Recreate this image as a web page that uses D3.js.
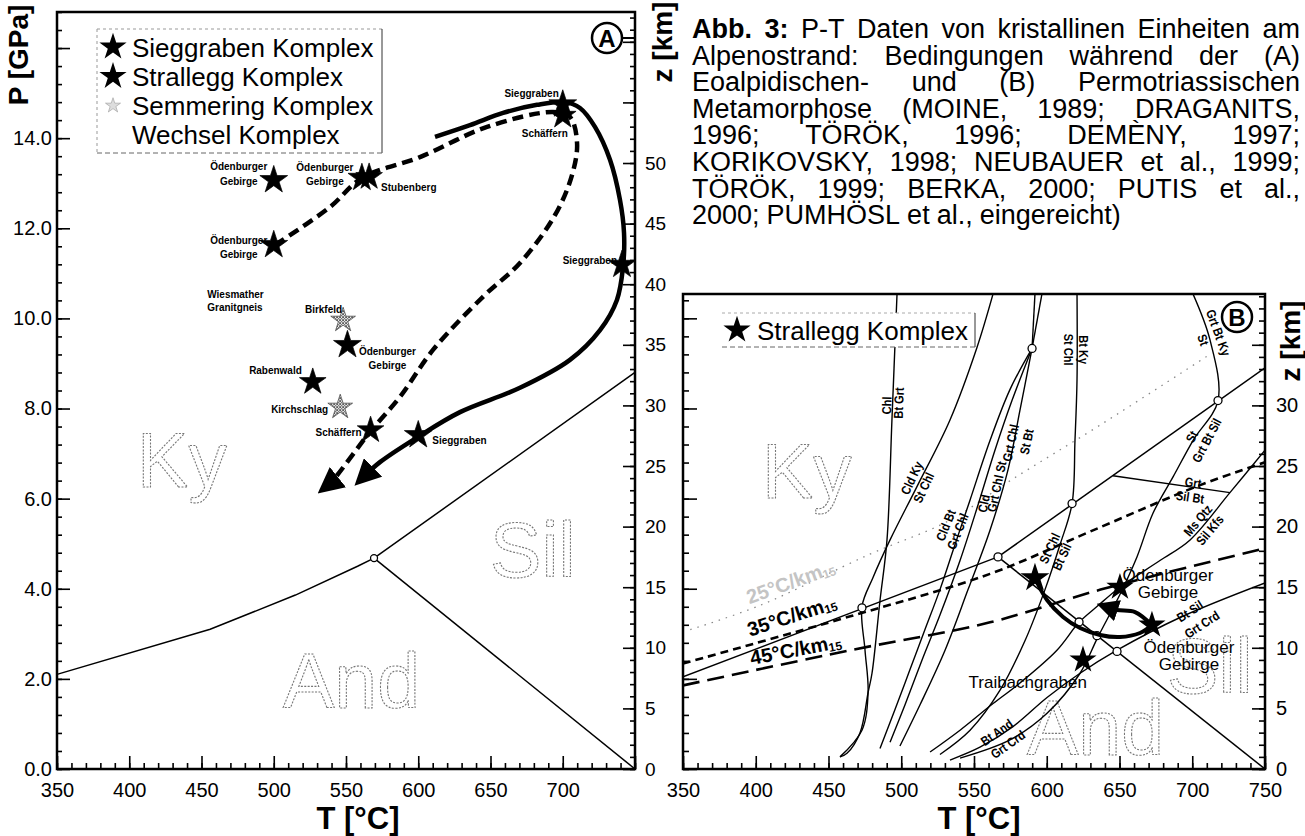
<!DOCTYPE html>
<html>
<head>
<meta charset="utf-8">
<script src="https://cdn.jsdelivr.net/npm/d3@7"></script>
<style>
  body { margin: 0; background: #fff; }
  svg { display: block; font-family: "Liberation Sans", Arial, sans-serif; }
</style>
</head>
<body>
<svg id="chart" width="1305" height="836"></svg>
<script>
// ---------- panel A: eoalpidische Metamorphose (T in °C, P in kbar) ----------
const tTicksA = [350, 400, 450, 500, 550, 600, 650, 700];
const pTicksA = [0, 2, 4, 6, 8, 10, 12, 14];
const zTicksA = [0, 5, 10, 15, 20, 25, 30, 35, 40, 45, 50];
const legendA = ['Sieggraben Komplex', 'Strallegg Komplex', 'Semmering Komplex', 'Wechsel Komplex'];

const sieggrabenA = [
  { site: 'Sieggraben', T: 700, P: 14.75 },
  { site: 'Sieggraben', T: 741, P: 11.19 },
  { site: 'Sieggraben', T: 600, P: 7.41 },
  { site: 'Ödenburger Gebirge', T: 500, P: 13.07 },
  { site: 'Ödenburger Gebirge', T: 500, P: 11.63 },
  { site: 'Ödenburger Gebirge', T: 561, P: 13.12 },
  { site: 'Ödenburger Gebirge', T: 551, P: 9.41 }
];
const stralleggA = [
  { site: 'Schäffern', T: 700, P: 14.5 },
  { site: 'Stubenberg', T: 566, P: 13.14 },
  { site: 'Rabenwald', T: 527, P: 8.59 },
  { site: 'Schäffern', T: 567, P: 7.52 }
];
const semmeringA = [
  { site: 'Birkfeld', T: 548, P: 9.96 },
  { site: 'Kirchschlag', T: 546, P: 8.03 }
];
const wechselA = [{ site: 'Wiesmather Granitgneis', T: 454, P: 10.52 }];

// P-T-Pfade
const stralleggPathA = [[500.9, 11.63], [538.9, 12.47], [561.1, 13.12], [601.2, 13.58], [647.6, 14.25],
  [693.3, 14.58], [705, 14.47], [709.9, 13.89], [706.4, 13.18], [694.6, 12.29], [670.4, 11.23],
  [644.8, 10.48], [610.2, 9.3], [587.4, 8.26], [566.6, 7.48], [541, 6.41], [536, 6.26]];
const sieggrabenPathA = [[611.6, 14.03], [635.8, 14.29], [658.7, 14.56], [682.2, 14.74], [701.6, 14.8],
  [711.9, 14.67], [722.3, 14.25], [732.7, 13.52], [739.6, 12.63], [742.4, 11.9], [741.7, 11.14],
  [737.5, 10.41], [725.8, 9.74], [705, 9.08], [670.4, 8.46], [628.9, 7.92], [599.8, 7.37],
  [573.5, 6.81], [561, 6.45]];

// Al2SiO5
const kyAndA = [[350, 2.1], [456, 3.1], [515, 3.86], [558, 4.5], [569.4, 4.68]];
const kySilA = [[569.4, 4.68], [750, 8.8]];
const andSilA = [[569.4, 4.68], [750, 0]];
const triplePointA = [[569.4, 4.68]];
const fieldsA = [{ name: 'Ky', T: 405.4, P: 6.26 }, { name: 'Sil', T: 649.7, P: 4.26 }, { name: 'And', T: 506.4, P: 1.35 }];

// ---------- panel B: permotriassische Metamorphose (T in °C, z in km) ----------
const tTicksB = [350, 400, 450, 500, 550, 600, 650, 700, 750];
const zTicksB = [0, 5, 10, 15, 20, 25, 30];
const legendB = ['Strallegg Komplex'];

const stralleggB = [
  { site: '', T: 591.9, z: 15.76 },
  { site: 'Ödenburger Gebirge', T: 650.3, z: 15.0 },
  { site: 'Ödenburger Gebirge', T: 672.3, z: 11.88 },
  { site: 'Traibachgraben', T: 624.9, z: 9.0 }
];
const stralleggPathB = [[591.9, 15.76], [600.2, 13.94], [611.2, 12.54], [622.9, 11.63], [636.6, 11.06],
  [650.3, 10.89], [664.1, 11.22], [672.3, 11.88]];
const stralleggArrowB = [[672.3, 11.88], [660.7, 12.95], [648.3, 13.12], [640, 13.4]];

const geotherm35 = [[350, 8.7], [465, 12.6], [561, 16.1], [630, 19.6], [705, 23.4], [750, 25.3]];
const geotherm45 = [[350, 6.9], [465, 9.8], [561, 12.1], [637, 14.8], [750, 18.2]];
const geotherm25 = [[355, 11.5], [403, 13.5], [478, 17.7], [533, 20.5], [575, 23.8], [637, 28.4], [712, 34.2]];
const geothermLabels = [
  { main: '35°C/km', sub: '15', T: 426.3, z: 12.1 },
  { main: '45°C/km', sub: '15', T: 428.3, z: 9.3 },
  { main: '25°C/km', sub: '15', T: 425.6, z: 14.9 }
];

const kyAndB = [[350, 7.6], [566.5, 17.5]];
const kySilB = [[566.5, 17.5], [750, 33.1]];
const andSilB = [[566.5, 17.5], [750, 0]];

const reactionsB = [
  [[497.1, 39.2], [493.6, 28.8], [490.2, 18.9], [485.4, 13.9], [479.9, 7.9], [477.2, 6.3], [471.7, 3.0], [462.7, 1.3], [457.9, 1.0]],
  [[563.1, 39.2], [552.1, 34.8], [533.5, 28.8], [510.8, 23.3], [492.3, 18.9], [480.6, 15.8], [473.0, 13.4], [475.1, 9.8], [477.2, 6.3], [473.0, 3.2], [457.9, 1.0]],
  [[485.4, 1.7], [495.7, 4.9], [506.0, 8.2], [516.3, 11.5], [526.6, 14.8], [536.9, 18.5], [547.3, 22.2], [561.0, 27.1], [574.7, 31.3], [589.9, 34.7]],
  [[492.3, 2.2], [502.6, 5.3], [514.3, 9.0], [526.6, 12.7], [540.4, 17.2], [552.8, 21.8], [564.4, 26.3], [576.1, 30.4], [589.9, 34.7]],
  [[499.1, 1.9], [512.9, 5.3], [530.1, 9.8], [545.9, 14.8], [561.0, 19.7], [573.4, 24.7], [581.6, 29.6], [589.9, 34.7]],
  [[589.9, 34.7], [591.9, 39.2]],
  [[589.9, 34.7], [596.7, 39.2]],
  [[620.8, 39.2], [620.8, 32.1], [619.4, 27.1], [617.4, 21.9], [609.1, 18.5], [598.8, 14.8], [585.1, 10.6], [567.9, 6.5], [547.3, 3.2], [526.6, 1.2]],
  [[700.5, 39.2], [712.2, 35.4], [717.7, 30.4], [700.5, 27.1], [686.8, 24.1], [673.0, 21.1], [662.0, 17.5], [650.3, 14.4], [635.2, 10.9], [622.9, 7.9], [600.2, 4.6], [574.7, 2.4], [540.4, 0.9]],
  [[645.5, 24.2], [725.9, 22.8]],
  [[750, 26.3], [725.9, 22.8], [698.5, 18.9], [677.8, 17.2], [650.3, 15.0], [634.5, 13.4], [622.2, 12.1], [607.0, 9.8], [581.6, 7.1], [563.1, 5.4], [540.4, 3.2], [519.8, 1.4]],
  [[750, 15.35], [691.6, 12.5], [648.3, 9.8], [622.9, 7.9], [600.2, 5.9], [576.8, 3.5], [554.1, 1.8], [533.5, 0.74]]
];
const invariantPointsB = [[566.5, 17.5], [473.0, 13.3], [617.4, 21.9], [717.7, 30.4], [589.9, 34.7],
  [622.2, 12.13], [634.5, 11.0], [648.3, 9.7]];

const reactionLabelsB = [
  ['Chl', 490.2, 30.0], ['Bt Grt', 498.5, 30.2],
  ['Cld Ky', 507.4, 24.0], ['St Chl', 515.6, 23.2],
  ['Cld Bt', 530.8, 20.1], ['Grt Chl', 539.0, 19.6],
  ['Cld', 556.9, 21.9], ['Grt Chl St', 565.8, 23.3], ['Grt Chl', 575.4, 26.9], ['St Bt', 586.4, 27.0],
  ['Bt Ky', 624.9, 34.6], ['St Chl', 614.6, 34.6],
  ['Grt Bt Ky', 717.7, 36.0], ['St', 707.4, 35.4],
  ['St', 699.8, 27.4], ['Grt Bt Sil', 710.1, 27.1],
  ['Grt', 700.5, 23.6], ['Sil Bt', 698.5, 22.4],
  ['Ms Qtz', 704.0, 20.5], ['Sil Kfs', 712.2, 19.7],
  ['St Chl', 602.2, 18.2], ['Bt Sil', 610.5, 17.5],
  ['Bt Sil', 698.5, 13.0], ['Grt Crd', 706.7, 11.9],
  ['Bt And', 565.8, 3.0], ['Grt Crd', 573.4, 2.0]
];
const fieldsB = [{ name: 'Ky', T: 404.3, z: 22.4 }, { name: 'Sil', T: 682.7, z: 6.3 }, { name: 'And', T: 586.4, z: 1.16 }];

const captionLines = [
  'Abb. 3: P-T Daten von kristallinen Einheiten am',
  'Alpenostrand: Bedingungen während der (A)',
  'Eoalpidischen- und (B) Permotriassischen',
  'Metamorphose (MOINE, 1989; DRAGANITS,',
  '1996; TÖRÖK, 1996; DEMÈNY, 1997;',
  'KORIKOVSKY, 1998; NEUBAUER et al., 1999;',
  'TÖRÖK, 1999; BERKA, 2000; PUTIS et al.,',
  '2000; PUMHÖSL et al., eingereicht)'
];

// ---------- layout ----------
const svg = d3.select('#chart');
const FONT = '"Liberation Sans", Arial, sans-serif';

const xA = d3.scaleLinear().domain([350, 750]).range([57, 635]);
const yA = d3.scaleLinear().domain([0, 16.8]).range([769, 12]);
const zA = d3.scaleLinear().domain([0, 62.46]).range([769, 12]);
const xB = d3.scaleLinear().domain([350, 750]).range([683, 1265]);
const zB = d3.scaleLinear().domain([0, 39.19]).range([769, 294]);
const pB = d3.scaleLinear().domain([0, 10.54]).range([769, 294]);

const defs = svg.append('defs');
const hatch = defs.append('pattern').attr('id', 'hatch').attr('width', 3).attr('height', 3)
  .attr('patternUnits', 'userSpaceOnUse');
hatch.append('rect').attr('width', 3).attr('height', 3).attr('fill', '#fff');
hatch.append('path').attr('d', 'M0,0L3,3M3,0L0,3').attr('stroke', '#333').attr('stroke-width', 0.8);

function addArrow(id, size) {
  defs.append('marker').attr('id', id).attr('viewBox', '0 -5 10 10')
    .attr('refX', 6).attr('refY', 0).attr('markerWidth', size).attr('markerHeight', size)
    .attr('markerUnits', 'userSpaceOnUse').attr('orient', 'auto')
    .append('path').attr('d', 'M0,-5L10,0L0,5Z').attr('fill', '#000');
}
addArrow('arrowA', 26);
addArrow('arrowB', 22);

defs.append('clipPath').attr('id', 'clipB').append('rect')
  .attr('x', 683).attr('y', 294).attr('width', 582).attr('height', 475);

const star = d3.symbol().type(d3.symbolStar);

function styleAxis(g, size) {
  g.attr('font-family', FONT).attr('font-size', size);
  g.select('.domain').remove();
  g.selectAll('.tick line').attr('stroke', '#000').attr('stroke-width', 1.6);
  g.selectAll('.tick text').attr('fill', '#000');
}

// ========== PANEL A ==========
const gA = svg.append('g');

gA.selectAll('text.field').data(fieldsA).join('text')
  .attr('x', d => xA(d.T)).attr('y', d => yA(d.P))
  .attr('font-size', 77).attr('fill', 'none').attr('stroke', '#777')
  .attr('stroke-width', 1.1).attr('stroke-dasharray', '2,1.4')
  .text(d => d.name);

const lineA = d3.line().x(d => xA(d[0])).y(d => yA(d[1]));
[kyAndA, kySilA, andSilA].forEach(l => {
  gA.append('path').attr('d', lineA(l))
    .attr('fill', 'none').attr('stroke', '#000').attr('stroke-width', 1.5);
});
gA.selectAll('circle.tp').data(triplePointA).join('circle')
  .attr('cx', d => xA(d[0])).attr('cy', d => yA(d[1])).attr('r', 3.5)
  .attr('fill', '#fff').attr('stroke', '#000').attr('stroke-width', 1.3);

const smoothA = d3.line().x(d => xA(d[0])).y(d => yA(d[1])).curve(d3.curveCatmullRom.alpha(0.5));
gA.append('path').attr('d', smoothA(stralleggPathA)).attr('fill', 'none').attr('stroke', '#000')
  .attr('stroke-width', 4.5).attr('stroke-dasharray', '11,6').attr('marker-end', 'url(#arrowA)');
gA.append('path').attr('d', smoothA(sieggrabenPathA)).attr('fill', 'none').attr('stroke', '#000')
  .attr('stroke-width', 4.5).attr('marker-end', 'url(#arrowA)');

// label offsets for the stars (dx, dy of first line, anchor)
const layoutSieggrabenA = [[-4, -7, 'end'], [-5, -1, 'end'], [14, 9, 'start'],
  [-35, -10, 'middle'], [-35, -1, 'middle'], [-37, -7, 'middle'], [40, 10, 'middle']];
const layoutStralleggA = [[5, 21, 'end'], [12, 14, 'start'], [-11, -8, 'end'], [-9, 6, 'end']];
const layoutSemmeringA = [[-1, -7, 'end'], [-12, 6, 'end']];

function siteLabel(g, x, y, name, lay, size, lh, weight, sx) {
  const lines = name.split(' ');
  const ax = x + lay[0];
  const t = g.append('text').attr('font-size', size).attr('font-weight', weight)
    .attr('text-anchor', lay[2]).attr('fill', '#000')
    .attr('transform', `translate(${ax},0) scale(${sx},1) translate(${-ax},0)`);
  lines.forEach((ln, i) => {
    t.append('tspan').attr('x', ax).attr('y', y + lay[1] + i * lh).text(ln);
  });
}

function drawStarsA(data, layout, fill, size) {
  data.forEach((d, i) => {
    gA.append('path').attr('d', star.size(size)())
      .attr('transform', `translate(${xA(d.T)},${yA(d.P)})`)
      .attr('fill', fill).attr('stroke', fill === '#000' ? '#000' : '#444').attr('stroke-width', 0.7);
    siteLabel(gA, xA(d.T), yA(d.P), d.site, layout[i], 10.5, 14.5, 'bold', 0.95);
  });
}
drawStarsA(sieggrabenA, layoutSieggrabenA, '#000', 240);
drawStarsA(stralleggA, layoutStralleggA, '#000', 220);
drawStarsA(semmeringA, layoutSemmeringA, 'url(#hatch)', 190);
wechselA.forEach(d => siteLabel(gA, xA(d.T), yA(d.P), d.site, [0, 3, 'start'], 10.5, 13.5, 'bold', 0.95));

// legend A
const legA = gA.append('g');
legA.append('line').attr('x1', 97).attr('y1', 29).attr('x2', 382).attr('y2', 29)
  .attr('stroke', '#999').attr('stroke-dasharray', '3,3');
legA.append('line').attr('x1', 97).attr('y1', 29).attr('x2', 97).attr('y2', 153)
  .attr('stroke', '#999').attr('stroke-dasharray', '3,3');
legA.append('line').attr('x1', 382).attr('y1', 29).attr('x2', 382).attr('y2', 153)
  .attr('stroke', '#333').attr('stroke-width', 1);
legA.append('line').attr('x1', 97).attr('y1', 153).attr('x2', 382).attr('y2', 153)
  .attr('stroke', '#666').attr('stroke-dasharray', '5,3');
legendA.forEach((name, i) => {
  const cy = 47 + i * 29.3;
  if (i < 2) {
    legA.append('path').attr('d', star.size(230)()).attr('transform', `translate(113,${cy})`).attr('fill', '#000');
  } else if (i === 2) {
    legA.append('path').attr('d', star.size(70)()).attr('transform', `translate(113,${cy})`)
      .attr('fill', '#ddd').attr('stroke', '#999').attr('stroke-width', 0.6);
  }
  legA.append('text').attr('x', 132).attr('y', cy + 9.5).attr('font-size', 26).text(name);
});

// frame & axes A
gA.append('rect').attr('x', 57).attr('y', 12).attr('width', 578).attr('height', 757)
  .attr('fill', 'none').attr('stroke', '#000').attr('stroke-width', 2.5);

gA.append('g').attr('transform', `translate(0,${yA(0)})`)
  .call(d3.axisBottom(xA).tickValues(d3.range(350, 751, 10)).tickSize(-6).tickFormat(''))
  .call(g => styleAxis(g, 20));
gA.append('g').attr('transform', `translate(0,${yA(0)})`)
  .call(d3.axisBottom(xA).tickValues(d3.range(350, 751, 50)).tickSize(-13).tickPadding(14)
    .tickFormat(d => tTicksA.includes(d) ? d : ''))
  .call(g => styleAxis(g, 20));

gA.append('g').attr('transform', `translate(${xA(350)},0)`)
  .call(d3.axisLeft(yA).tickValues(d3.range(0, 16.81, 0.4)).tickSize(-5).tickFormat(''))
  .call(g => styleAxis(g, 20));
gA.append('g').attr('transform', `translate(${xA(350)},0)`)
  .call(d3.axisLeft(yA).tickValues(d3.range(0, 16.81, 2)).tickSize(-13).tickPadding(5)
    .tickFormat(d => pTicksA.includes(d) ? d3.format('.1f')(d) : ''))
  .call(g => styleAxis(g, 20));

gA.append('g').attr('transform', `translate(${xA(750)},0)`)
  .call(d3.axisRight(zA).tickValues(d3.range(0, 62.5, 1)).tickSize(-5).tickFormat(''))
  .call(g => styleAxis(g, 19));
gA.append('g').attr('transform', `translate(${xA(750)},0)`)
  .call(d3.axisRight(zA).tickValues(d3.range(0, 62.5, 5)).tickSize(-12).tickPadding(10)
    .tickFormat(d => zTicksA.includes(d) ? d : ''))
  .call(g => styleAxis(g, 19));

gA.append('line').attr('x1', 622).attr('x2', 635).attr('y1', 38).attr('y2', 38)
  .attr('stroke', '#000').attr('stroke-width', 2);
gA.append('circle').attr('cx', 607).attr('cy', 38).attr('r', 15)
  .attr('fill', '#fff').attr('stroke', '#000').attr('stroke-width', 2.5);
gA.append('text').attr('x', 607).attr('y', 46.5).attr('text-anchor', 'middle')
  .attr('font-size', 24).attr('font-weight', 'bold').text('A');

gA.append('text').attr('transform', 'translate(28,55) rotate(-90)').attr('text-anchor', 'middle')
  .attr('font-size', 28).attr('font-weight', 'bold').text('P [GPa]');
gA.append('text').attr('transform', 'translate(672,42) rotate(-90)').attr('text-anchor', 'middle')
  .attr('font-size', 28).attr('font-weight', 'bold').text('z [km]');
gA.append('text').attr('x', 358).attr('y', 829).attr('text-anchor', 'middle')
  .attr('font-size', 31).attr('font-weight', 'bold').text('T [°C]');

// ========== PANEL B ==========
const gB = svg.append('g');
const plotB = gB.append('g').attr('clip-path', 'url(#clipB)');

plotB.selectAll('text.field').data(fieldsB).join('text')
  .attr('x', d => xB(d.T)).attr('y', d => zB(d.z))
  .attr('font-size', 77).attr('fill', 'none').attr('stroke', '#777')
  .attr('stroke-width', 1.1).attr('stroke-dasharray', '2,1.4')
  .text(d => d.name);

const smoothB = d3.line().x(d => xB(d[0])).y(d => zB(d[1])).curve(d3.curveCatmullRom.alpha(0.5));
const straightB = d3.line().x(d => xB(d[0])).y(d => zB(d[1]));

plotB.append('path').attr('d', smoothB(geotherm25)).attr('fill', 'none')
  .attr('stroke', '#888').attr('stroke-width', 1.3).attr('stroke-dasharray', '1.5,6');

reactionsB.forEach(r => {
  plotB.append('path').attr('d', smoothB(r)).attr('fill', 'none')
    .attr('stroke', '#000').attr('stroke-width', 1.4);
});
[kyAndB, kySilB, andSilB].forEach(l => {
  plotB.append('path').attr('d', straightB(l)).attr('fill', 'none')
    .attr('stroke', '#000').attr('stroke-width', 1.5);
});

plotB.append('path').attr('d', smoothB(geotherm35)).attr('fill', 'none')
  .attr('stroke', '#000').attr('stroke-width', 2.6).attr('stroke-dasharray', '8,5');
plotB.append('path').attr('d', smoothB(geotherm45)).attr('fill', 'none')
  .attr('stroke', '#000').attr('stroke-width', 2.6).attr('stroke-dasharray', '17,8');

plotB.selectAll('circle.inv').data(invariantPointsB).join('circle')
  .attr('cx', d => xB(d[0])).attr('cy', d => zB(d[1])).attr('r', 4)
  .attr('fill', '#fff').attr('stroke', '#000').attr('stroke-width', 1.3);

const reactionAngles = [-88, -88, -65, -65, -68, -68, -78, -78, -78, -78, 90, 90, 70, 70,
  -62, -62, 8, 8, -50, -50, -65, -65, -33, -33, -35, -35];
reactionLabelsB.forEach((d, i) => {
  plotB.append('text')
    .attr('transform', `translate(${xB(d[1])},${zB(d[2])}) rotate(${reactionAngles[i]}) scale(0.85,1)`)
    .attr('text-anchor', 'middle').attr('dominant-baseline', 'central')
    .attr('font-size', 13).attr('font-weight', 'bold')
    .text(d[0]);
});

const geoAngles = [-18, -11, -20];
geothermLabels.forEach((d, i) => {
  const t = plotB.append('text')
    .attr('transform', `translate(${xB(d.T)},${zB(d.z)}) rotate(${geoAngles[i]})`)
    .attr('text-anchor', 'middle').attr('font-size', 20).attr('font-weight', 'bold')
    .attr('fill', i === 2 ? '#c4c4c4' : '#000');
  t.append('tspan').text(d.main);
  t.append('tspan').attr('font-size', 12).attr('dy', 2).text(d.sub);
});

plotB.append('path').attr('d', smoothB(stralleggPathB)).attr('fill', 'none')
  .attr('stroke', '#000').attr('stroke-width', 4);
plotB.append('path').attr('d', smoothB(stralleggArrowB)).attr('fill', 'none')
  .attr('stroke', '#000').attr('stroke-width', 4).attr('marker-end', 'url(#arrowB)');

const layoutB = [null, [48, -6, 'middle'], [37, 28, 'middle'], [4, 28, 'end']];
stralleggB.forEach((d, i) => {
  plotB.append('path').attr('d', star.size(i === 0 ? 260 : 230)())
    .attr('transform', `translate(${xB(d.T)},${zB(d.z)})`).attr('fill', '#000');
  if (layoutB[i]) siteLabel(plotB, xB(d.T), zB(d.z), d.site, layoutB[i], 17, 17, 'normal', 1);
});

const legB = gB.append('g');
legB.append('rect').attr('x', 722).attr('y', 313).attr('width', 253).attr('height', 34).attr('fill', '#fff').attr('stroke', 'none');
legB.append('line').attr('x1', 722).attr('y1', 313).attr('x2', 975).attr('y2', 313).attr('stroke', '#aaa').attr('stroke-dasharray', '3,3');
legB.append('line').attr('x1', 975).attr('y1', 313).attr('x2', 975).attr('y2', 347).attr('stroke', '#333');
legB.append('line').attr('x1', 722).attr('y1', 347).attr('x2', 975).attr('y2', 347).attr('stroke', '#666').attr('stroke-dasharray', '5,3');
legB.append('path').attr('d', star.size(230)()).attr('transform', 'translate(737,330)').attr('fill', '#000');
legB.append('text').attr('x', 757).attr('y', 339.5).attr('font-size', 26).text(legendB[0]);

gB.append('rect').attr('x', 683).attr('y', 294).attr('width', 582).attr('height', 475)
  .attr('fill', 'none').attr('stroke', '#000').attr('stroke-width', 2.5);

gB.append('g').attr('transform', `translate(0,${zB(0)})`)
  .call(d3.axisBottom(xB).tickValues(d3.range(350, 751, 10)).tickSize(-6).tickFormat(''))
  .call(g => styleAxis(g, 20));
gB.append('g').attr('transform', `translate(0,${zB(0)})`)
  .call(d3.axisBottom(xB).tickValues(tTicksB).tickSize(-13).tickPadding(14))
  .call(g => styleAxis(g, 20));

gB.append('g').attr('transform', `translate(${xB(350)},0)`)
  .call(d3.axisLeft(pB).tickValues(d3.range(0, 10.5, 0.4)).tickSize(-6).tickFormat(''))
  .call(g => styleAxis(g, 20));
gB.append('g').attr('transform', `translate(${xB(350)},0)`)
  .call(d3.axisLeft(pB).tickValues(d3.range(0, 10.5, 2)).tickSize(-14).tickFormat(''))
  .call(g => styleAxis(g, 20));

gB.append('g').attr('transform', `translate(${xB(750)},0)`)
  .call(d3.axisRight(zB).tickValues(d3.range(0, 39.1, 1)).tickSize(-6).tickFormat(''))
  .call(g => styleAxis(g, 20));
gB.append('g').attr('transform', `translate(${xB(750)},0)`)
  .call(d3.axisRight(zB).tickValues(d3.range(0, 39.1, 5)).tickSize(-13).tickPadding(11)
    .tickFormat(d => zTicksB.includes(d) ? d : ''))
  .call(g => styleAxis(g, 20));

gB.append('circle').attr('cx', 1237).attr('cy', 317).attr('r', 15)
  .attr('fill', '#fff').attr('stroke', '#000').attr('stroke-width', 2.5);
gB.append('text').attr('x', 1237).attr('y', 325.5).attr('text-anchor', 'middle')
  .attr('font-size', 24).attr('font-weight', 'bold').text('B');

gB.append('text').attr('transform', 'translate(1300,341) rotate(-90)').attr('text-anchor', 'middle')
  .attr('font-size', 28).attr('font-weight', 'bold').text('z [km]');
gB.append('text').attr('x', 979).attr('y', 829).attr('text-anchor', 'middle')
  .attr('font-size', 31).attr('font-weight', 'bold').text('T [°C]');

// ========== caption (justified) ==========
const capX0 = 692, capX1 = 1300, capY0 = 38, capDy = 26.6;
const cap = svg.append('g').attr('font-size', 27);
captionLines.forEach((line, i) => {
  const words = line.split(' ');
  const y = capY0 + i * capDy;
  const row = cap.append('g');
  const nodes = words.map((w, j) => row.append('text').attr('y', y)
    .attr('font-weight', i === 0 && j < 2 ? 'bold' : 'normal').text(w));
  const widths = nodes.map(n => n.node().getComputedTextLength());
  const total = d3.sum(widths);
  const minGap = 5;
  let sx = 1;
  if (total + minGap * (words.length - 1) > capX1 - capX0) {
    sx = (capX1 - capX0) / (total + minGap * (words.length - 1));
  }
  const avail = (capX1 - capX0) / sx;
  const last = i === captionLines.length - 1;
  const gap = last ? 7 : Math.max(minGap, (avail - total) / (words.length - 1));
  let x = capX0;
  nodes.forEach((n, j) => { n.attr('x', x); x += widths[j] + gap; });
  if (sx !== 1) row.attr('transform', `translate(${capX0},0) scale(${sx},1) translate(${-capX0},0)`);
});
</script>
</body>
</html>
